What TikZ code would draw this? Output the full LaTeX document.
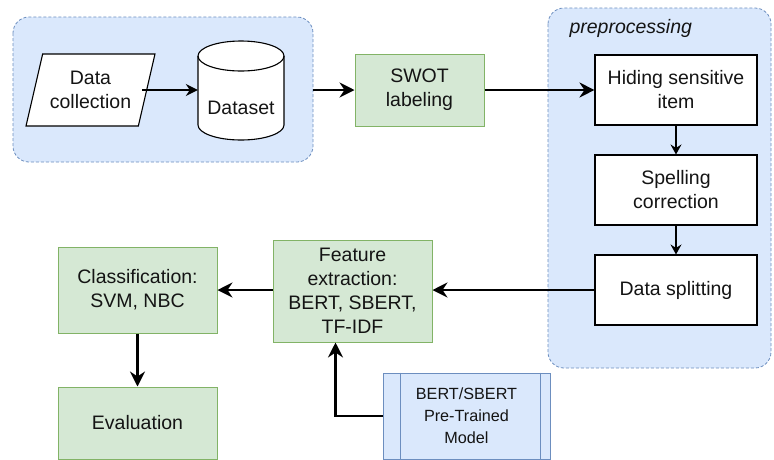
\documentclass[tikz,border=0pt]{standalone}
\usepackage{fontspec}
\setmainfont{Liberation Sans}
\usetikzlibrary{arrows.meta,shapes.geometric,calc}
\definecolor{bfill}{HTML}{DAE8FC}
\definecolor{bdraw}{HTML}{6C8EBF}
\definecolor{gfill}{HTML}{D5E8D4}
\definecolor{gdraw}{HTML}{82B366}
\definecolor{txt}{HTML}{141414}
\tikzset{
  grp/.style={fill=bfill,draw=bdraw,dash pattern=on 3pt off 2pt,rounded corners=16pt,line width=0.8pt},
  lbl/.style={font=\fontsize{19.5}{24}\selectfont,text=txt,align=center},
  gbox/.style={lbl,fill=gfill,draw=gdraw,line width=1pt,inner sep=0pt},
  wbox/.style={lbl,fill=white,draw=black,line width=1.1pt,inner sep=0pt},
  bigarr/.style={line width=2.2pt,-{Stealth[length=15pt,width=15pt,inset=5pt]}},
  smallarr/.style={line width=1.2pt,-{Stealth[length=10pt,width=11pt,inset=3.5pt]}},
}
\begin{document}
\begin{tikzpicture}[x=1pt,y=-1pt]
\useasboundingbox (0,0) rectangle (774,459);
% groups
\draw[grp] (13,17) rectangle (313,162);
\draw[grp] (548,8) rectangle (771,368);
\node[lbl,font=\fontsize{19.5}{24}\selectfont\itshape,anchor=west] (pre) at (566,28) {preprocessing};
% data collection
\node[lbl,trapezium,trapezium left angle=69.4,trapezium right angle=110.6,draw=black,fill=white,line width=1.1pt,
  minimum width=129pt,minimum height=72pt,inner sep=0pt,trapezium stretches=true] (dc) at (90.5,90) {Data\\collection};
% dataset cylinder
\filldraw[fill=white,draw=black,line width=1.1pt] (198,56) -- (198,125) arc[start angle=180,end angle=0,x radius=43,y radius=15] -- (284,56) arc[start angle=0,end angle=-180,x radius=43,y radius=15] -- cycle;
\draw[line width=1.1pt] (198,56) arc[start angle=180,end angle=0,x radius=43,y radius=15];
\node[lbl,inner sep=0pt,minimum width=86pt,minimum height=100pt] (ds) at (241,90) {};
\node[lbl] (dstext) at (241,108) {Dataset};
% swot
\node[gbox,minimum width=129pt,minimum height=72pt] (swot) at (419.5,90) {SWOT\\labeling};
% preprocessing boxes
\node[wbox,minimum width=162pt,minimum height=70pt] (hide) at (676,90) {Hiding sensitive\\item};
\node[wbox,minimum width=162pt,minimum height=70pt] (spell) at (676,190) {Spelling\\correction};
\node[wbox,minimum width=162pt,minimum height=70pt] (split) at (676,290) {Data splitting};
% lower row
\node[gbox,minimum width=159pt,minimum height=102pt] (feat) at (352.5,291) {Feature\\extraction:\\BERT, SBERT,\\TF-IDF};
\node[gbox,minimum width=159pt,minimum height=86pt] (cls) at (137.5,290) {Classification:\\SVM, NBC};
\node[gbox,minimum width=159pt,minimum height=72pt] (eval) at (137.5,423) {Evaluation};
\node[lbl,font=\fontsize{16.2}{22}\selectfont,fill=bfill,draw=bdraw,line width=1pt,minimum width=167pt,minimum height=86pt,inner sep=0pt] (bert) at (466.5,416) {BERT/SBERT\\Pre-Trained\\Model};
\draw[bdraw,line width=1pt] ($(bert.north west)+(18,0)$) -- ($(bert.south west)+(18,0)$);
\draw[bdraw,line width=1pt] ($(bert.north east)+(-10,0)$) -- ($(bert.south east)+(-10,0)$);
% connectors
\coordinate (dcout) at (142,90);
\coordinate (g1) at (313,90);
\draw[line width=1.5pt,-{Stealth[length=12pt,width=12pt,inset=4pt]}] (dcout) -- (ds.west);
\draw[bigarr] (g1) -- (swot.west);
\draw[bigarr] (swot.east) -- (hide.west);
\draw[smallarr] (hide.south) -- (spell.north);
\draw[smallarr] (spell.south) -- (split.north);
\draw[bigarr] (split.west) -- (feat.east|-split.west);
\draw[bigarr] (feat.west|-cls.east) -- (cls.east);
\draw[bigarr] (cls.south) -- (eval.north);
\draw[bigarr] (bert.west) -| ($(feat.south)+(-17,0)$);
\end{tikzpicture}
\end{document}
